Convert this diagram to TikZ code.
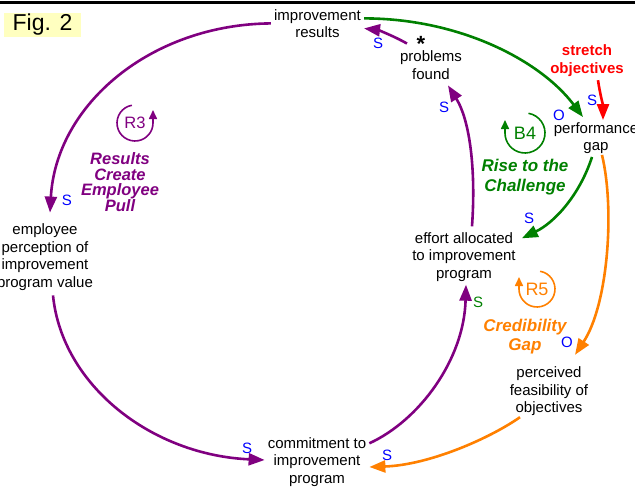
\documentclass[tikz,border=0pt]{standalone}
\usepackage{fontspec}
\setmainfont{Liberation Sans}
\usepackage{tikz}
\usetikzlibrary{arrows.meta}
\usepackage{xcolor}
\definecolor{cldpurple}{RGB}{128,0,128}
\definecolor{cldgreen}{RGB}{0,128,0}
\definecolor{cldorange}{RGB}{255,128,0}
\definecolor{cldred}{RGB}{255,0,0}
\definecolor{cldblue}{RGB}{0,0,255}
\definecolor{figyellow}{RGB}{255,255,192}
\tikzset{
  var/.style={align=center,inner sep=3pt,font=\fontsize{15}{17.5}\selectfont},
  link/.style={line width=2.6pt,-{Triangle[length=16pt,width=12pt]}},
  pol/.style={text=cldblue,inner sep=0pt,font=\fontsize{15}{17.5}\selectfont},
  loopname/.style={align=center,inner sep=0pt,font=\fontsize{17}{19}\selectfont\bfseries\itshape},
  looptag/.style={inner sep=0pt,font=\fontsize{18}{20}\selectfont},
  loopsign/.style={line width=1.6pt,-{Triangle[length=9pt,width=8pt]}},
}
\begin{document}
\begin{tikzpicture}[x=1pt,y=1pt]
		\useasboundingbox (0,0) rectangle (635,-487);
		% FRAME AND TAG
		\draw [line width=3pt] (0,-2.5) -- (635,-2.5);
		\node [fill=figyellow,minimum width=77pt,minimum height=24pt,inner sep=0pt,font=\fontsize{23}{26}\selectfont] (fig) at (42.5,-25) {Fig. 2};
		% VARIABLES
		\node [var] (imp) at (317.5,-23.4) {improvement\\results};
		\node [var] (prob) at (431,-65) {problems\\found};
		\node [var,text=cldred,font=\fontsize{15}{18}\selectfont\bfseries] (stretch) at (587,-61) {stretch\\objectives};
		\node [var] (perf) at (596,-138) {performance\\gap};
		\node [var] (eff) at (464,-257) {effort allocated\\to improvement\\program};
		\node [var] (emp) at (45,-257) {employee\\perception of\\improvement\\program value};
		\node [var] (com) at (317,-462) {commitment to\\improvement\\program};
		\node [var] (perc) at (549,-391.5) {perceived\\feasibility of\\objectives};
		\node [inner sep=0pt,font=\fontsize{22}{24}\selectfont\bfseries] (star) at (421,-44) {*};
		% PURPLE LINKS
		\draw [link,cldpurple] (imp.west) .. controls +(-120,-1) and +(6,108) .. ([xshift=5pt,yshift=8pt]emp.north);
		\draw [link,cldpurple] ([xshift=8pt,yshift=-2pt]emp.south) .. controls +(9,-90) and +(-113,5) .. ([yshift=2pt]com.west);
		\draw [link,cldpurple] ([yshift=-9pt]com.north east) .. controls +(50,23) and +(-2,-75) .. ([xshift=2pt]eff.south);
		\draw [link,cldpurple] ([xshift=8pt,yshift=3pt]eff.north) .. controls +(4,56) and +(22,-35) .. ([xshift=17pt,yshift=-3pt]prob.south);
		\draw [link,cldpurple] ([xshift=10pt,yshift=4pt]prob.north west) .. controls +(-14,8) and +(13.5,-1.6) .. ([yshift=-5pt]imp.east);
		% GREEN LINKS
		\draw [link,cldgreen] ([yshift=5pt]imp.east) .. controls +(95,0) and +(-43,57) .. ([xshift=-13pt,yshift=2pt]perf.north);
		\draw [link,cldgreen] ([xshift=-4pt]perf.south) .. controls +(-12,-37.5) and +(33,16) .. ([xshift=3pt,yshift=-9pt]eff.north east);
		% RED AND ORANGE LINKS
		\draw [link,cldred] ([xshift=11pt]stretch.south) .. controls +(2,-14) and +(0,15) .. ([xshift=7pt,yshift=-1pt]perf.north);
		\draw [link,cldorange] ([xshift=6pt,yshift=2pt]perf.south) .. controls +(13,-54.5) and +(33,50) .. ([xshift=26pt,yshift=9pt]perc.north);
		\draw [link,cldorange] ([xshift=-29pt,yshift=2pt]perc.south) .. controls +(-30,-21) and +(60,2) .. ([yshift=-5pt]com.east);
		% POLARITIES
		\node [pol] (sEmp) at (67,-200) {S};
		\node [pol] (sCom) at (247,-448) {S};
		\node [pol,text=cldgreen] (sEff) at (478,-302) {S};
		\node [pol] (sProb) at (444,-107) {S};
		\node [pol] (sImp) at (378,-43) {S};
		\node [pol] (oPerf) at (559,-115) {O};
		\node [pol] (sPerf) at (592,-100) {S};
		\node [pol] (sEffB) at (529,-218) {S};
		\node [pol] (oPerc) at (567,-342) {O};
		\node [pol] (sComB) at (387,-455) {S};
		% LOOPS
		\node [looptag,text=cldpurple,font=\fontsize{16.5}{18}\selectfont] (rthree) at (135,-123) {R3};
		\draw [loopsign,cldpurple] (rthree.center) ++(100:18) arc [start angle=100,end angle=360,radius=18] -- ++(0,13);
		\node [loopname,text=cldpurple,font=\fontsize{16.5}{15.7}\selectfont\bfseries\itshape] (rthreeName) at (120,-182) {Results\\Create\\Employee\\Pull};
		\node [looptag,text=cldgreen] (bfour) at (525,-133) {B4};
		\draw [loopsign,cldgreen] (bfour.center) ++(80:20) arc [start angle=80,end angle=-180,radius=20] -- ++(0,13);
		\node [loopname,text=cldgreen,font=\fontsize{17}{20}\selectfont\bfseries\itshape] (bfourName) at (525,-177) {Rise to the\\Challenge};
		\node [looptag,text=cldorange] (rfive) at (537,-289) {R5};
		\draw [loopsign,cldorange] (rfive.center) ++(80:18) arc [start angle=80,end angle=-180,radius=18] -- ++(0,12);
		\node [loopname,text=cldorange] (rfiveName) at (525,-337) {Credibility\\Gap};
\end{tikzpicture}
\end{document}
